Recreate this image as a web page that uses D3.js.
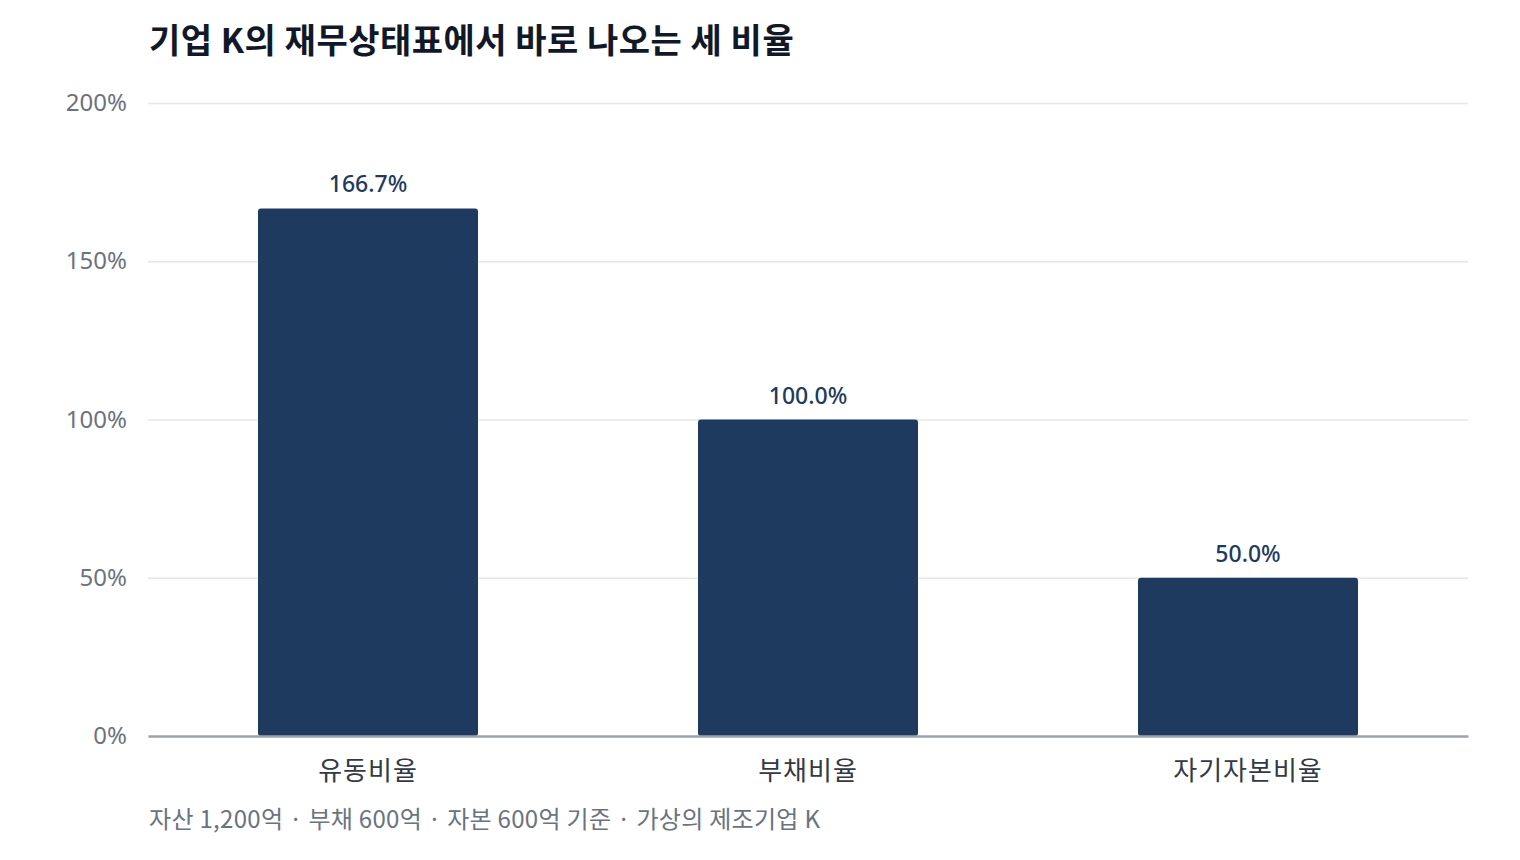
<!DOCTYPE html>
<html>
<head>
<meta charset="utf-8">
<script src="https://cdn.jsdelivr.net/npm/d3@7"></script>
<style>
  body { margin: 0; background: #fff; }
  svg { display: block; font-family: "Noto Sans", "Noto Sans CJK KR", sans-serif; }
</style>
</head>
<body>
<svg class="chart" width="1520" height="860"></svg>
<script>
var categories = ["유동비율", "부채비율", "자기자본비율"];
var values = [166.7, 100.0, 50.0];
var tickValues = [0, 50, 100, 150, 200];
var title = "기업 K의 재무상태표에서 바로 나오는 세 비율";
var note = "자산 1,200억 · 부채 600억 · 자본 600억 기준 · 가상의 제조기업 K";

var svg = d3.select(".chart"),
    margin = {top: 103, right: 52, bottom: 124, left: 148},
    width = +svg.attr("width") - margin.left - margin.right,
    height = +svg.attr("height") - margin.top - margin.bottom;

var x = d3.scaleBand()
    .domain(categories)
    .range([0, width])
    .paddingInner(0.5)
    .paddingOuter(0.25);

var y = d3.scaleLinear()
    .domain([0, 200])
    .range([height, 0]);

var g = svg.append("g")
    .attr("transform", "translate(" + margin.left + "," + margin.top + ")");

// gridlines
g.append("g")
    .call(d3.axisLeft(y).tickValues(tickValues).tickSize(-width).tickFormat(""))
    .call(function(a) { a.select(".domain").remove(); })
    .selectAll("line")
    .attr("stroke", "#e5e7eb")
    .attr("stroke-width", 1.5);

// y tick labels
g.append("g")
    .call(d3.axisLeft(y).tickValues(tickValues).tickSize(0).tickPadding(21)
        .tickFormat(function(d) { return d + "%"; }))
    .call(function(a) { a.select(".domain").remove(); })
    .selectAll("text")
    .attr("font-size", 24)
    .attr("font-family", "\"Noto Sans\", \"Noto Sans CJK KR\", sans-serif")
    .attr("fill", "#6b7280");

// bars
g.selectAll(".bar")
    .data(values)
  .enter().append("rect")
    .attr("class", "bar")
    .attr("x", function(d, i) { return x(categories[i]); })
    .attr("y", function(d) { return y(d); })
    .attr("width", x.bandwidth())
    .attr("height", function(d) { return y(0) - y(d); })
    .attr("rx", 3)
    .attr("fill", "#1f3a5f");

// value labels
g.selectAll(".val")
    .data(values)
  .enter().append("text")
    .attr("class", "val")
    .attr("x", function(d, i) { return x(categories[i]) + x.bandwidth() / 2; })
    .attr("y", function(d) { return y(d) - 16; })
    .attr("text-anchor", "middle")
    .attr("font-size", 23)
    .attr("font-weight", 500)
    .attr("fill", "#1f3a5f")
    .text(function(d) { return d.toFixed(1) + "%"; });

// x axis
var xa = g.append("g")
    .attr("transform", "translate(0," + height + ")")
    .call(d3.axisBottom(x).tickSize(0).tickPadding(26));
xa.select(".domain")
    .attr("stroke", "#9ca3af")
    .attr("stroke-width", 2.5);
xa.selectAll("text")
    .attr("font-size", 26)
    .attr("letter-spacing", 1)
    .attr("font-family", "\"Noto Sans CJK KR\", sans-serif")
    .attr("fill", "#333a45");

svg.append("text")
    .attr("x", 149)
    .attr("y", 53)
    .attr("font-size", 34)
    .attr("font-weight", "bold")
    .attr("letter-spacing", 0.5)
    .attr("font-family", "\"Noto Sans CJK KR\", sans-serif")
    .attr("fill", "#111827")
    .text(title);

svg.append("text")
    .attr("x", 149)
    .attr("y", 828)
    .attr("font-size", 24)
    .attr("letter-spacing", 0.3)
    .attr("font-family", "\"Noto Sans CJK KR\", sans-serif")
    .attr("fill", "#6b7280")
    .text(note);
</script>
</body>
</html>
